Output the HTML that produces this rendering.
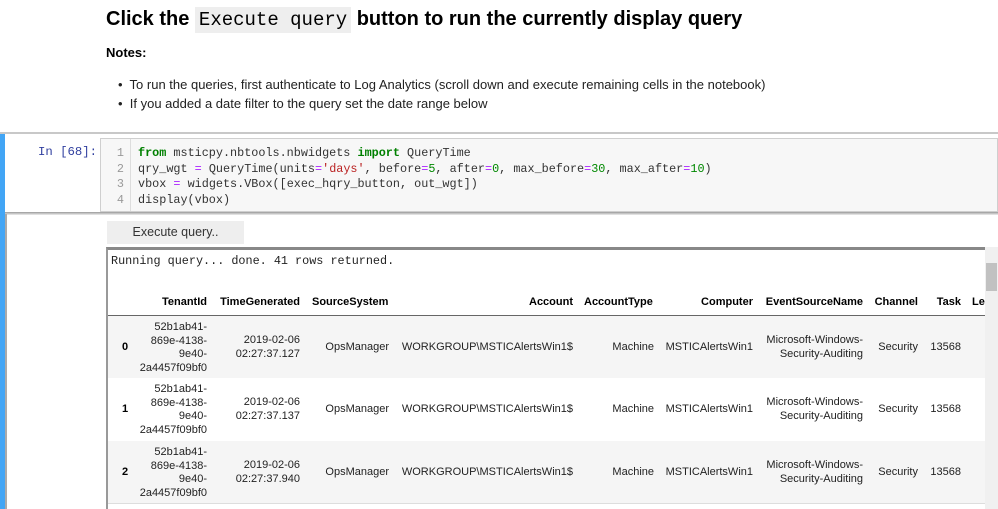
<!DOCTYPE html>
<html><head><meta charset="utf-8"><style>
*{margin:0;padding:0;box-sizing:border-box}
body{width:998px;height:509px;overflow:hidden;background:#fff;position:relative;font-family:"Liberation Sans",sans-serif;color:#000}
.a{position:absolute;white-space:nowrap}
.mono{font-family:"Liberation Mono",monospace}
.t{font-size:11px;color:#222}
.r{text-align:right}
.h{font-weight:bold;font-size:11px}
.kw{color:#008000;font-weight:bold}.s{color:#ba2121}.o{color:#aa22ff}.n{color:#080}
</style></head><body>
<div class="a" style="left:106px;top:8px;font-size:20px;font-weight:bold">Click the <span class="mono" style="background:#eee;padding:2px 4px;font-weight:normal;font-size:19px">Execute query</span> button to run the currently display query</div>
<div class="a" style="left:106px;top:45px;font-size:13px;font-weight:bold">Notes:</div>
<div class="a" style="left:118px;top:77px;font-size:13px;color:#222">•&nbsp; To run the queries, first authenticate to Log Analytics (scroll down and execute remaining cells in the notebook)</div>
<div class="a" style="left:118px;top:96px;font-size:13px;color:#222">•&nbsp; If you added a date filter to the query set the date range below</div>

<div class="a" style="left:0;top:132px;width:998px;height:2px;background:#c8c8c8"></div>
<div class="a" style="left:0;top:134px;width:5px;height:375px;background:#42a5f5"></div>
<div class="a mono" style="left:38px;top:145px;font-size:12.3px;color:#303f9f">In [68]:</div>
<div class="a" style="left:100px;top:138px;width:898px;height:74px;background:#f7f7f7;border:1px solid #cfcfcf"></div>
<div class="a" style="left:130px;top:139px;width:1px;height:72px;background:#ddd"></div>
<div class="a mono" style="left:112px;top:146px;font-size:11.8px;line-height:15.5px;color:#999;text-align:right;width:12px">1<br>2<br>3<br>4</div>
<div class="a mono" style="left:138px;top:146px;font-size:11.8px;line-height:15.5px;color:#333">
<span class="kw">from</span> msticpy.nbtools.nbwidgets <span class="kw">import</span> QueryTime<br>
qry_wgt <span class="o">=</span> QueryTime(units<span class="o">=</span><span class="s">'days'</span>, before<span class="o">=</span><span class="n">5</span>, after<span class="o">=</span><span class="n">0</span>, max_before<span class="o">=</span><span class="n">30</span>, max_after<span class="o">=</span><span class="n">10</span>)<br>
vbox <span class="o">=</span> widgets.VBox([exec_hqry_button, out_wgt])<br>
display(vbox)</div>

<div class="a" style="left:5px;top:212px;width:993px;height:3px;background:linear-gradient(#999,#eee)"></div>
<div class="a" style="left:5px;top:214px;width:2px;height:295px;background:#aaa"></div>
<div class="a" style="left:107px;top:221px;width:137px;height:23px;background:#eee;font-size:12.5px;color:#333;text-align:center;line-height:23px">Execute query..</div>
<div class="a" style="left:106px;top:247px;width:880px;height:262px;border-left:2px solid #999;border-top:3px solid #888"></div>
<div class="a" style="left:985px;top:247px;width:13px;height:262px;background:#f0f0f0"></div>
<div class="a" style="left:986px;top:263px;width:11px;height:28px;background:#c1c1c1"></div>
<div class="a mono" style="left:111px;top:254px;font-size:11.8px;color:#222">Running query... done. 41 rows returned.</div>

<div class="a" style="left:108px;top:315px;width:877px;height:1px;background:#666"></div>
<div class="a" style="left:108px;top:316px;width:877px;height:62px;background:#f5f5f5"></div>
<div class="a" style="left:108px;top:441px;width:877px;height:62px;background:#f5f5f5"></div>
<div class="a" style="left:108px;top:503px;width:877px;height:1px;background:#ddd"></div>

<div class="a h r" style="right:791px;top:296px">TenantId</div>
<div class="a h r" style="right:698px;top:296px">TimeGenerated</div>
<div class="a h" style="left:312px;top:296px">SourceSystem</div>
<div class="a h r" style="right:425px;top:296px">Account</div>
<div class="a h" style="left:584px;top:296px">AccountType</div>
<div class="a h r" style="right:245px;top:296px">Computer</div>
<div class="a h r" style="right:135px;top:296px">EventSourceName</div>
<div class="a h r" style="right:80px;top:296px">Channel</div>
<div class="a h r" style="right:37px;top:296px">Task</div>
<div class="a h" style="left:972px;top:296px">Le</div>

<div id="rows"></div>
<script>
var tops=[317,379,442],idx=["0","1","2"],tm=["02:27:37.127","02:27:37.137","02:27:37.940"],h="";
for(var i=0;i<3;i++){var y=tops[i];
h+='<div class="a h" style="left:122px;top:'+(y+24)+'px">'+idx[i]+'</div>';
h+='<div class="a t r" style="right:791px;top:'+(y+4)+'px;line-height:13.5px">52b1ab41-<br>869e-4138-<br>9e40-<br>2a4457f09bf0</div>';
h+='<div class="a t r" style="right:698px;top:'+(y+17)+'px;line-height:13.5px">2019-02-06<br>'+tm[i]+'</div>';
h+='<div class="a t r" style="right:609px;top:'+(y+24)+'px">OpsManager</div>';
h+='<div class="a t r" style="right:425px;top:'+(y+24)+'px">WORKGROUP\\MSTICAlertsWin1$</div>';
h+='<div class="a t r" style="right:344px;top:'+(y+24)+'px">Machine</div>';
h+='<div class="a t r" style="right:245px;top:'+(y+24)+'px">MSTICAlertsWin1</div>';
h+='<div class="a t r" style="right:135px;top:'+(y+17)+'px;line-height:13.5px">Microsoft-Windows-<br>Security-Auditing</div>';
h+='<div class="a t r" style="right:80px;top:'+(y+24)+'px">Security</div>';
h+='<div class="a t r" style="right:37px;top:'+(y+24)+'px">13568</div>';}
document.getElementById("rows").innerHTML=h;
</script>
</body></html>
